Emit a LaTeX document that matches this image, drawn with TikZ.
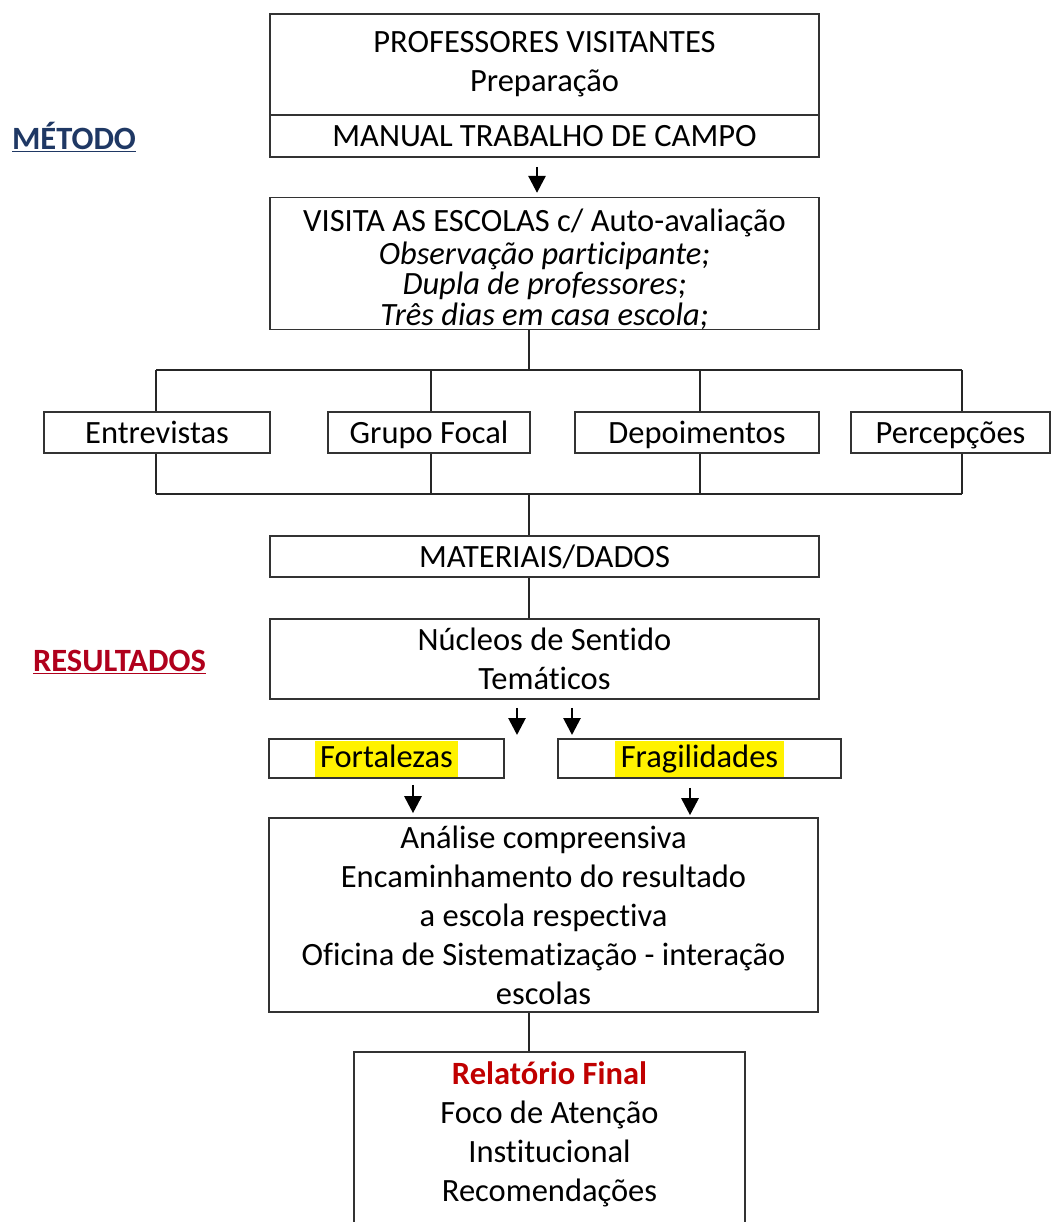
\documentclass[tikz,border=0pt]{standalone}
\usepackage{fontspec}
\setmainfont[Ligatures=NoCommon]{Carlito}
\usetikzlibrary{arrows.meta}
\definecolor{navy}{HTML}{1F3864}
\definecolor{dred}{HTML}{B0001C}
\definecolor{rred}{HTML}{C00000}
\definecolor{hl}{HTML}{FFF200}
\definecolor{boxc}{HTML}{333333}
\begin{document}
\setlength{\fboxsep}{0pt}
\begin{tikzpicture}[x=1pt,y=-1pt,
  box/.style={draw=boxc,line width=1.6pt,inner sep=0pt,align=center,font=\fontsize{32.5}{39}\selectfont},
  one/.style={text height=28pt,text depth=7pt},
  side/.style={inner sep=0pt,font=\fontsize{32.5}{39}\selectfont\bfseries},
  conn/.style={line width=1.3pt,draw=black!85},
  arr/.style={line width=2.8pt,draw=black,-{Triangle[length=17pt,width=17pt]}}]
\useasboundingbox (0,0) rectangle (1052,1222);
\fill[white] (0,0) rectangle (1052,1222);
% side labels
\node[side,text=navy] (metodo) at (74,137) {\underline{MÉTODO}};
\node[side,text=dred] (result) at (119.5,662) {\underline{RESULTADOS}};
% boxes
\node[box,minimum width=549pt,minimum height=101pt] (prof) at (544.5,64.5) {PROFESSORES VISITANTES\\Preparação};
\node[box,one,minimum width=549pt,minimum height=42pt] (manual) at (544.5,136) {MANUAL TRABALHO DE CAMPO};
\node[box,minimum width=549pt,minimum height=131pt,font=\fontsize{32.5}{30.5}\selectfont] (visita) at (544.5,263.5)
  {\rule{0pt}{34pt}VISITA AS ESCOLAS c/ Auto-avaliação\\[2pt]\textit{Observação participante;}\\\textit{Dupla de professores;}\\\textit{Três dias em casa escola;}};
\node[box,one,minimum width=226pt,minimum height=41pt] (ent) at (157,432.5) {Entrevistas};
\node[box,one,minimum width=202pt,minimum height=41pt] (gf) at (429,432.5) {Grupo Focal};
\node[box,one,minimum width=244pt,minimum height=41pt] (dep) at (697,432.5) {Depoimentos};
\node[box,one,minimum width=199pt,minimum height=41pt] (perc) at (950.5,432.5) {Percepções};
\node[box,one,minimum width=549pt,minimum height=41pt] (mat) at (544.5,556.5) {MATERIAIS/DADOS};
\node[box,minimum width=549pt,minimum height=80pt] (nuc) at (544.5,659) {Núcleos de Sentido\\Temáticos};
\node[box,minimum width=235pt,minimum height=39pt] (fort) at (386.5,758.5) {\colorbox{hl}{\rule[-9pt]{0pt}{36pt}\,Fortalezas\,}};
\node[box,minimum width=283pt,minimum height=39pt] (frag) at (699.5,758.5) {\colorbox{hl}{\rule[-9pt]{0pt}{36pt}\,Fragilidades\,}};
\node[box,minimum width=549pt,minimum height=194pt] (ana) at (543.5,915)
  {Análise compreensiva\\Encaminhamento do resultado\\a escola respectiva\\Oficina de Sistematização - interação\\escolas};
\node[box,minimum width=391pt,minimum height=190pt] (rel) at (549.5,1147)
  {\textcolor{rred}{\bfseries Relatório Final}\\Foco de Atenção\\Institucional\\Recomendações\\[-8pt]\mbox{}};
% bus coordinates
\coordinate (v0) at (529,370);
\coordinate (b1) at (156,370);
\coordinate (b2) at (431,370);
\coordinate (b3) at (700,370);
\coordinate (b4) at (962,370);
\coordinate (w0) at (529,494);
\coordinate (c1) at (156,494);
\coordinate (c2) at (431,494);
\coordinate (c3) at (700,494);
\coordinate (c4) at (962,494);
% connectors
\draw[conn] (visita.south -| v0) -- (v0);
\draw[conn] (b1) -- (b4);
\draw[conn] (b1) -- (b1 |- ent.north);
\draw[conn] (b2) -- (b2 |- gf.north);
\draw[conn] (b3) -- (b3 |- dep.north);
\draw[conn] (b4) -- (b4 |- perc.north);
\draw[conn] (c1) -- (c4);
\draw[conn] (ent.south -| c1) -- (c1);
\draw[conn] (gf.south -| c2) -- (c2);
\draw[conn] (dep.south -| c3) -- (c3);
\draw[conn] (perc.south -| c4) -- (c4);
\draw[conn] (w0) -- (w0 |- mat.north);
\draw[conn] (mat.south -| w0) -- (w0 |- nuc.north);
\draw[conn] (ana.south -| w0) -- (w0 |- rel.north);
% arrows
\coordinate (ax1) at (537,0);
\draw[arr,shorten <=9pt,shorten >=4pt] (manual.south -| ax1) -- (visita.north -| ax1);
\coordinate (t1) at (517,735);
\coordinate (t2) at (572,735);
\draw[arr,shorten <=8pt] (nuc.south -| t1) -- (t1);
\draw[arr,shorten <=8pt] (nuc.south -| t2) -- (t2);
\coordinate (ax2) at (413,0);
\coordinate (ax3) at (690,0);
\draw[arr,shorten <=6pt,shorten >=4pt] (fort.south -| ax2) -- (ana.north -| ax2);
\draw[arr,shorten <=9pt,shorten >=2pt] (frag.south -| ax3) -- (ana.north -| ax3);
\end{tikzpicture}
\end{document}
